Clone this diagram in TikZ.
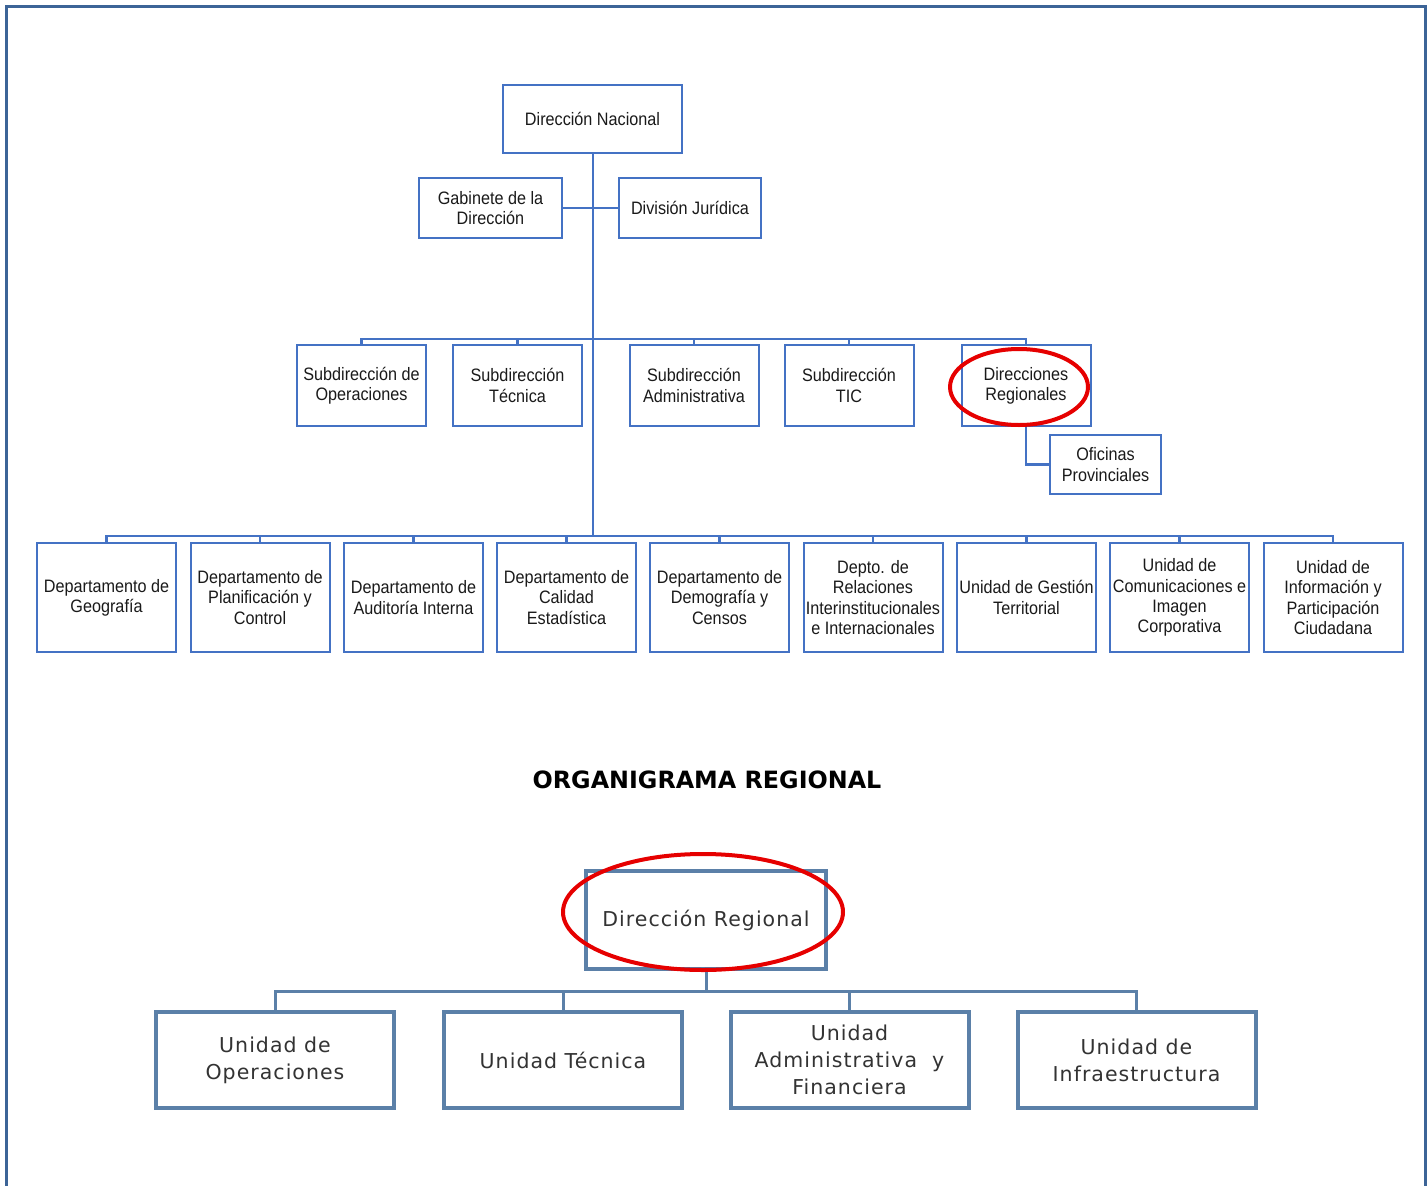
\documentclass[tikz,border=0pt]{standalone}
\usepackage{fontspec}
\setmainfont{Liberation Sans}
\newfontfamily\narrowfont[FakeStretch=0.9]{Liberation Sans}
\newfontfamily\wideFont[LetterSpace=5]{DejaVu Sans}
\newfontfamily\titleFont{DejaVu Sans}
\definecolor{topblue}{HTML}{4472C4}
\definecolor{lowblue}{HTML}{5B80A8}
\definecolor{frameblue}{HTML}{3C6497}
\definecolor{txtgray}{HTML}{1A1A1A}
\definecolor{lowtxt}{HTML}{333333}
\definecolor{markred}{HTML}{E60000}
\tikzset{
  tb/.style={draw=topblue, line width=2pt, fill=white, align=center, inner sep=0pt,
    text=txtgray, font=\narrowfont\fontsize{18}{20.3}\selectfont},
  subbox/.style={tb, minimum width=129pt, minimum height=81pt},
  deptbox/.style={tb, minimum width=139pt, minimum height=109pt},
  lb/.style={draw=lowblue, line width=4pt, fill=white, align=center, inner sep=0pt,
    text=lowtxt, font=\wideFont\fontsize{20.5}{27}\selectfont},
  unitbox/.style={lb, minimum width=238pt, minimum height=96pt},
  topline/.style={draw=topblue, line width=2.5pt},
  lowline/.style={draw=lowblue, line width=3pt},
  redmark/.style={draw=markred, line width=4pt},
}
\begin{document}
\begin{tikzpicture}[x=1pt,y=-1pt]
\useasboundingbox (0,0) rectangle (1428,1186);
% outer frame
\draw[frameblue, line width=3pt] (6,1186) -- (6,6) -- (1425,6) -- (1425,1186);

% coordinates of junctions
\coordinate (j1) at (593,208);
\coordinate (j2) at (593,339);
\coordinate (j3) at (593,536);
\coordinate (j4) at (706,991);

% trunk
\draw[topline] (593,153) -- (j3);

% top nodes
\node[tb, minimum width=179pt, minimum height=68pt] (dn) at (592.5,119) {Dirección Nacional};
\node[tb, minimum width=143pt, minimum height=60pt] (gab) at (490.5,208) {Gabinete de la\\Dirección};
\node[tb, minimum width=142pt, minimum height=60pt] (jur) at (690,208) {División Jurídica};
\draw[topline] (gab.east) -- (jur.west);

% sub-directions
\node[subbox] (so) at (361.5,385.5) {Subdirección de\\Operaciones};
\node[subbox] (st) at (517.5,385.5) {Subdirección\\Técnica};
\node[subbox] (sa) at (694,385.5) {Subdirección\\Administrativa};
\node[subbox] (stic) at (849,385.5) {Subdirección\\TIC};
\node[subbox] (dr) at (1026,385.5) {Direcciones\\Regionales};
\node[tb, minimum width=111pt, minimum height=59pt] (op) at (1105.5,464.5) {Oficinas\\Provinciales};

\draw[topline] (so.north) -- (so.north |- j2) -- (dr.north |- j2) -- (dr.north);
\draw[topline] (st.north) -- (st.north |- j2);
\draw[topline] (sa.north) -- (sa.north |- j2);
\draw[topline] (stic.north) -- (stic.north |- j2);
\draw[topline] (dr.south) |- (op.west);

% departments
\node[deptbox] (d1) at (106.5,597.5) {Departamento de\\Geografía};
\node[deptbox] (d2) at (260,597.5) {Departamento de\\Planificación y\\Control};
\node[deptbox] (d3) at (413.5,597.5) {Departamento de\\Auditoría Interna};
\node[deptbox] (d4) at (566.5,597.5) {Departamento de\\Calidad\\Estadística};
\node[deptbox] (d5) at (719.5,597.5) {Departamento de\\Demografía y\\Censos};
\node[deptbox] (d6) at (873,597.5) {Depto. de\\Relaciones\\Interinstitucionales\\e Internacionales};
\node[deptbox] (d7) at (1026.5,597.5) {Unidad de Gestión\\Territorial};
\node[deptbox] (d8) at (1179.5,597.5) {Unidad de\\Comunicaciones e\\Imagen\\Corporativa};
\node[deptbox] (d9) at (1333,597.5) {Unidad de\\Información y\\Participación\\Ciudadana};

\draw[topline] (d1.north) -- (d1.north |- j3) -- (d9.north |- j3) -- (d9.north);
\foreach \n in {d2,d3,d4,d5,d6,d7,d8}
  \draw[topline] (\n.north) -- (\n.north |- j3);

% red mark (national)
\draw[redmark] (1019,387) ellipse [x radius=69pt, y radius=38pt];

% title
\node[font=\titleFont\bfseries\fontsize{23.8}{28}\selectfont, text=black] (title) at (707,780) {ORGANIGRAMA REGIONAL};

% regional chart
\node[lb, minimum width=240pt, minimum height=98pt] (dreg) at (706,920) {Dirección Regional};
\node[unitbox] (u1) at (275,1060) {Unidad de\\Operaciones};
\node[unitbox] (u2) at (563,1060) {Unidad Técnica};
\node[unitbox] (u3) at (849.5,1060) {Unidad\\Administrativa\ \ y\\Financiera};
\node[unitbox] (u4) at (1136.5,1060) {Unidad de\\Infraestructura};

\draw[lowline] (dreg.south) -- (j4);
\draw[lowline] (u1.north) -- (u1.north |- j4) -- (u4.north |- j4) -- (u4.north);
\draw[lowline] (u2.north) -- (u2.north |- j4);
\draw[lowline] (u3.north) -- (u3.north |- j4);

\draw[redmark] (703,912) ellipse [x radius=140pt, y radius=58pt];
\end{tikzpicture}
\end{document}
